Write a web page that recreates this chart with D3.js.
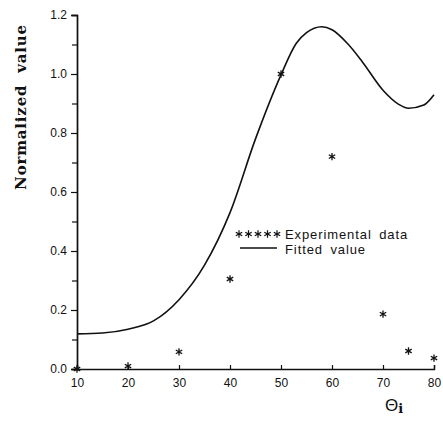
<!DOCTYPE html>
<html>
<head>
<meta charset="utf-8">
<script src="https://cdn.jsdelivr.net/npm/d3@7"></script>
<style>
  body{margin:0;background:#fff;}
  svg text{fill:#111;}
</style>
</head>
<body>
<div id="chart"></div>
<script>
// experimental points
const expTheta=[10,20,30,40,50,60,70,75,80];
const expValue=[0.0,0.01,0.058,0.305,1.0,0.72,0.186,0.061,0.037];
// fitted curve
const fitTheta=[10,15,20,25,30,35,40,45,50,53,55,58,60,63,66,70,73,75,78,80];
const fitValue=[0.119,0.122,0.135,0.163,0.235,0.352,0.53,0.78,0.997,1.104,1.14,1.16,1.15,1.104,1.04,0.945,0.898,0.884,0.895,0.93];
const yTicks=[0,0.2,0.4,0.6,0.8,1.0,1.2];
const yMinor=[0.1,0.3,0.5,0.7,0.9,1.1];
const xTicks=[10,20,30,40,50,60,70,80];

const W=443,H=428,m={t:15,r:9,b:59,l:77};
const w=W-m.l-m.r,h=H-m.t-m.b;
const svg=d3.select('#chart').append('svg').attr('width',W).attr('height',H);
const g=svg.append('g').attr('transform',`translate(${m.l},${m.t})`);
const x=d3.scaleLinear().domain([10,80]).range([0,w]);
const y=d3.scaleLinear().domain([0,1.2]).range([h,0]);
const font='"Liberation Sans",Arial,sans-serif';

// axes
const ya=g.append('g').call(d3.axisLeft(y).tickValues(yTicks).tickSize(6).tickPadding(4).tickFormat(d3.format('.1f')));
ya.selectAll('text').attr('font-family',font).attr('font-size',12).attr('fill','#111');
g.append('g').call(d3.axisLeft(y).tickValues(yMinor).tickSize(5).tickFormat(''));
const xa=g.append('g').attr('transform',`translate(0,${h})`).call(d3.axisBottom(x).tickValues(xTicks).tickSize(-4).tickPadding(9));
xa.selectAll('text').attr('font-family',font).attr('font-size',12).attr('fill','#111');
g.selectAll('.domain').attr('stroke','#111').attr('stroke-width',1.4);
g.selectAll('.tick line').attr('stroke','#111').attr('stroke-width',1.2);

// fitted line
const pts=fitTheta.map((t,i)=>[t,fitValue[i]]);
g.append('path').datum(pts).attr('fill','none').attr('stroke','#111').attr('stroke-width',1.6)
  .attr('d',d3.line().x(d=>x(d[0])).y(d=>y(d[1])).curve(d3.curveMonotoneX));

// stars
const star=d3.symbol().type(d3.symbolAsterisk).size(38);
g.selectAll('.st').data(expTheta.map((t,i)=>[t,expValue[i]])).join('path').attr('class','st')
  .attr('transform',d=>`translate(${x(d[0])},${y(d[1])})`).attr('d',star)
  .attr('fill','none').attr('stroke','#111').attr('stroke-width',1.3);

// legend
const leg=svg.append('g');
for(let i=0;i<5;i++) leg.append('path').attr('transform',`translate(${239+i*9.5},234)`).attr('d',star)
  .attr('fill','none').attr('stroke','#111').attr('stroke-width',1.2);
leg.append('text').attr('x',285).attr('y',239).attr('font-family',font).attr('font-size',13).attr('letter-spacing',0.9).attr('word-spacing',3).text('Experimental data');
leg.append('line').attr('x1',240).attr('x2',277).attr('y1',248).attr('y2',248).attr('stroke','#111').attr('stroke-width',1.4);
leg.append('text').attr('x',285).attr('y',254).attr('font-family',font).attr('font-size',13).attr('letter-spacing',0.9).attr('word-spacing',3).text('Fitted value');

// axis titles
svg.append('text').attr('transform','translate(26,107) rotate(-90)').attr('text-anchor','middle')
  .attr('font-family','"DejaVu Serif",serif').attr('font-weight','bold').attr('font-size',15)
  .attr('letter-spacing',0.8).attr('word-spacing',6).text('Normalized value');
const xt=svg.append('text').attr('x',385).attr('y',411);
xt.append('tspan').attr('font-family',font).attr('font-size',17).text('Θ');
xt.append('tspan').attr('font-family','"DejaVu Serif",serif').attr('font-weight','bold').attr('font-size',13).attr('dy',2).text('i');
</script>
</body>
</html>
